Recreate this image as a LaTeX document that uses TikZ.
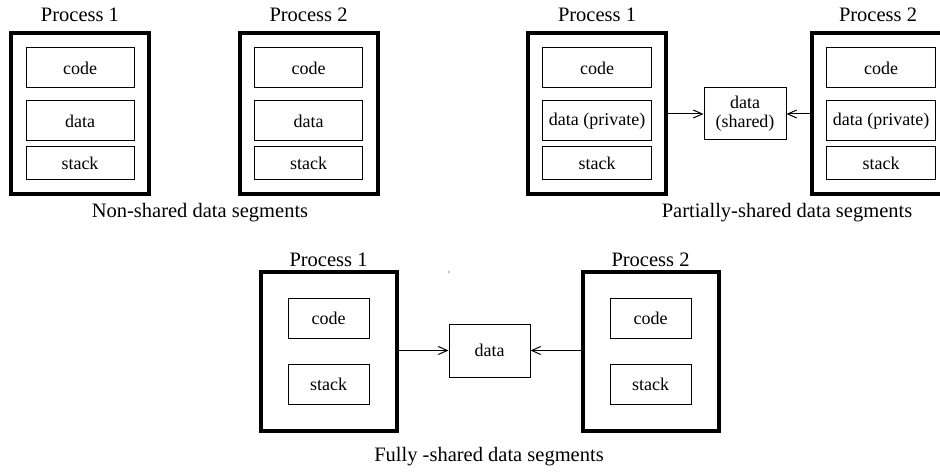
\documentclass[tikz,border=0pt]{standalone}
\usepackage{fontspec}
\setmainfont{Liberation Serif}
\usetikzlibrary{arrows.meta,positioning}

\tikzset{
  proc/.style={draw, line width=4pt, minimum width=138pt, minimum height=161pt, inner sep=0pt},
  seg/.style={draw, line width=1pt, minimum width=108pt, minimum height=40pt, inner sep=0pt,
    align=center, font=\fontsize{18}{19}\selectfont},
  title/.style={font=\fontsize{20.5}{22}\selectfont},
  arr/.style={-{Straight Barb[length=9pt,width=8pt]}, line width=1pt}
}

\begin{document}
\begin{tikzpicture}[x=1pt, y=-1pt]
  \path[use as bounding box, clip] (0,0) rectangle (940,476);

  % Non-shared data segments
  \foreach \x/\n in {80/1, 308.5/2} {
    \node[proc] (ns\n) at (\x,113.5) {};
    \node[seg] (ns\n code) at (\x,68) {code};
    \node[seg] (ns\n data) at (\x,121) {data};
    \node[seg, minimum height=33pt] (ns\n stack) at (\x,163.5) {stack};
    \node[title] (ns\n title) at (\x,15) {Process \n};
  }
  \node[title] (nscap) at (200,213) {Non-shared data segments};

  % Partially-shared data segments
  \foreach \x/\n in {597/1, 881/2} {
    \node[proc] (ps\n) at (\x,113.5) {};
    \node[seg, minimum width=109pt] (ps\n code) at (\x,68) {code};
    \node[seg, minimum width=109pt] (ps\n data) at (\x,121) {data (private)};
    \node[seg, minimum width=109pt, minimum height=33pt] (ps\n stack) at (\x,163.5) {stack};
  }
  \node[title] (ps1title) at (597,15) {Process 1};
  \node[title] (ps2title) at (878,15) {Process 2};
  \node[seg, minimum width=82pt, minimum height=52pt] (psshared) at (745,114) {data\\(shared)};
  \draw[arr] (ps1.east |- psshared) -- (psshared.west);
  \draw[arr] (ps2.west |- psshared) -- (psshared.east);
  \node[title] (pscap) at (787,213) {Partially-shared data segments};

  % Fully-shared data segments
  \foreach \x/\n in {328.5/1, 650.5/2} {
    \node[proc, minimum width=136pt, minimum height=159pt] (fs\n) at (\x,351.5) {};
    \node[seg, minimum width=81pt] (fs\n code) at (\x,318) {code};
    \node[seg, minimum width=81pt] (fs\n stack) at (\x,384) {stack};
    \node[title] (fs\n title) at (\x,260) {Process \n};
  }
  \node[seg, minimum width=81pt, minimum height=53pt] (fsdata) at (489.5,350.5) {data};
  \draw[arr] (fs1.east |- fsdata) -- (fsdata.west);
  \draw[arr] (fs2.west |- fsdata) -- (fsdata.east);
  \node[title] (fscap) at (489,457) {Fully -shared data segments};
  \fill (449,272) circle (0.6pt);
\end{tikzpicture}
\end{document}
